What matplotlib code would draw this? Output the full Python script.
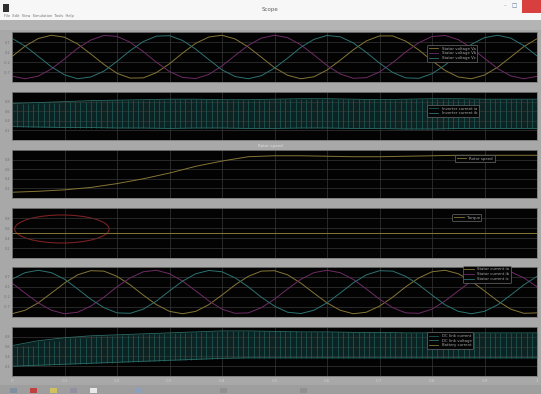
import numpy as np
import matplotlib.pyplot as plt
from matplotlib.patches import Ellipse, Rectangle

W, H = 541, 394

# sampled scope traces, time in grid divisions (0..10), step 0.25
t_sine = np.arange(41) * 0.25

# panel 1: three phase voltages (normalised)
v1_a = [0.02, 0.50, 0.85, 1.00, 0.91, 0.60, 0.14, -0.34, -0.75, -0.97, -0.96,
        -0.72, -0.31, 0.18, 0.63, 0.92, 1.00, 0.83, 0.46, -0.01, -0.49, -0.84,
        -1.00, -0.91, -0.60, -0.15, 0.33, 0.74, 0.97, 0.97, 0.73, 0.32, -0.17,
        -0.62, -0.92, -1.00, -0.83, -0.47, 0.00, 0.48, 0.84]
v1_b = [-0.88, -1.00, -0.88, -0.55, -0.09, 0.40, 0.78, 0.99, 0.95, 0.68, 0.25,
        -0.24, -0.67, -0.94, -0.99, -0.80, -0.41, 0.07, 0.54, 0.87, 1.00, 0.89,
        0.56, 0.10, -0.39, -0.78, -0.98, -0.95, -0.69, -0.26, 0.23, 0.66, 0.94,
        0.99, 0.80, 0.42, -0.06, -0.53, -0.87, -1.00, -0.89]
v1_c = [0.86, 0.50, 0.03, -0.45, -0.82, -1.00, -0.92, -0.65, -0.20, 0.29, 0.71,
        0.96, 0.98, 0.76, 0.36, -0.12, -0.59, -0.90, -1.00, -0.86, -0.51, -0.05,
        0.44, 0.81, 0.99, 0.93, 0.65, 0.21, -0.28, -0.71, -0.96, -0.98, -0.77,
        -0.37, 0.12, 0.58, 0.89, 1.00, 0.87, 0.52, 0.05]

# panel 5: three phase currents (normalised)
i5_a = [-1.00, -0.84, -0.50, -0.05, 0.41, 0.79, 0.98, 0.96, 0.72, 0.33, -0.14,
        -0.58, -0.89, -1.00, -0.89, -0.58, -0.14, 0.33, 0.72, 0.96, 0.98, 0.79,
        0.41, -0.05, -0.50, -0.84, -1.00, -0.93, -0.65, -0.24, 0.24, 0.65, 0.93,
        1.00, 0.84, 0.50, 0.05, -0.41, -0.79, -0.98, -0.96]
i5_b = [0.41, -0.05, -0.50, -0.84, -1.00, -0.93, -0.65, -0.24, 0.24, 0.65, 0.93,
        1.00, 0.84, 0.50, 0.05, -0.41, -0.79, -0.98, -0.96, -0.72, -0.33, 0.14,
        0.58, 0.89, 1.00, 0.89, 0.58, 0.14, -0.33, -0.72, -0.96, -0.98, -0.79,
        -0.41, 0.05, 0.50, 0.84, 1.00, 0.93, 0.65, 0.24]
i5_c = [0.59, 0.89, 1.00, 0.89, 0.59, 0.14, -0.33, -0.72, -0.96, -0.98, -0.79,
        -0.42, 0.05, 0.50, 0.84, 0.99, 0.93, 0.65, 0.24, -0.24, -0.65, -0.93,
        -0.99, -0.84, -0.50, -0.05, 0.42, 0.79, 0.98, 0.96, 0.72, 0.33, -0.14,
        -0.59, -0.89, -1.00, -0.89, -0.59, -0.14, 0.33, 0.72]

# slow traces, step 0.5
t_slow = np.arange(21) * 0.5
speed = [0.12, 0.14, 0.17, 0.22, 0.30, 0.40, 0.52, 0.66, 0.77, 0.86, 0.88,
         0.88, 0.87, 0.86, 0.86, 0.87, 0.88, 0.89, 0.89, 0.89, 0.89]
torque_t = [0, 10]
torque = [0.5, 0.5]

# switching envelopes (upper / lower) for panels 2 and 6
pwm2_hi = [0.76, 0.78, 0.80, 0.82, 0.83, 0.84, 0.85, 0.85, 0.84, 0.84, 0.85,
           0.86, 0.86, 0.85, 0.84, 0.85, 0.86, 0.86, 0.85, 0.85, 0.85]
pwm2_lo = [0.28, 0.27, 0.26, 0.26, 0.25, 0.25, 0.24, 0.25, 0.25, 0.24, 0.24,
           0.25, 0.25, 0.24, 0.24, 0.23, 0.23, 0.24, 0.24, 0.24, 0.24]
pwm6_hi = [0.62, 0.72, 0.78, 0.82, 0.84, 0.86, 0.88, 0.90, 0.92, 0.92, 0.91,
           0.90, 0.90, 0.89, 0.89, 0.88, 0.88, 0.88, 0.88, 0.88, 0.88]
pwm6_lo = [0.20, 0.22, 0.24, 0.26, 0.28, 0.30, 0.32, 0.34, 0.36, 0.37, 0.37,
           0.37, 0.37, 0.37, 0.37, 0.37, 0.37, 0.37, 0.37, 0.37, 0.37]

x_labels = ['0', '0.1', '0.2', '0.3', '0.4', '0.5', '0.6', '0.7', '0.8', '0.9', '1']

YEL, MAG, CYA = '#857636', '#6e2c66', '#2e7272'
TEAL = '#1f5a55'

fig = plt.figure(figsize=(W / 100, H / 100), dpi=100, facecolor='#a8a8a8')


def panel(top, bottom, ylim):
    ax = fig.add_axes([12 / W, 1 - bottom / H, 525 / W, (bottom - top) / H])
    ax.set_facecolor('#030303')
    ax.set_xlim(0, 10)
    ax.set_ylim(*ylim)
    ax.set_xticks(range(11))
    ax.set_yticks(np.linspace(ylim[0], ylim[1], 6)[1:-1])
    ax.grid(True, color='#383838', lw=0.5)
    ax.tick_params(length=0, labelsize=2.5, labelcolor='#707070', pad=1)
    ax.set_xticklabels([])
    ax.yaxis.set_major_formatter(plt.FormatStrFormatter('%.1f'))
    for s in ax.spines.values():
        s.set_color('#7a7a7a')
        s.set_linewidth(0.6)
    return ax


def legend(ax, labels, colors, anchor):
    handles = [plt.Line2D([], [], color=c, lw=0.6) for c in colors]
    lg = ax.legend(handles, labels, loc='upper left', bbox_to_anchor=anchor,
                   fontsize=2.8, frameon=True, facecolor='#050505',
                   edgecolor='#6a6a6a', labelcolor='#a8a8a8', handlelength=2.5,
                   borderpad=0.4, labelspacing=0.2, framealpha=1)
    lg.get_frame().set_linewidth(0.5)


def pwm(ax, hi, lo):
    ax.fill_between(t_slow, lo, hi, color='#0b2423', lw=0)
    ts = np.arange(100) * 0.1
    ax.vlines(ts, np.repeat(lo[:-1], 5), np.repeat(hi[:-1], 5), color=TEAL, lw=0.55)
    ax.plot(t_slow, hi, color='#2b6b65', lw=0.6)
    ax.plot(t_slow, lo, color='#2b6b65', lw=0.6)


ax1 = panel(32, 82, (-1.15, 1.15))
ax1.plot(t_sine, v1_a, color=YEL, lw=0.7)
ax1.plot(t_sine, v1_b, color=MAG, lw=0.7)
ax1.plot(t_sine, v1_c, color=CYA, lw=0.7)
legend(ax1, ['Stator voltage Va', 'Stator voltage Vb', 'Stator voltage Vc'],
       [YEL, MAG, CYA], (0.787, 0.78))

ax2 = panel(92, 140, (0, 1))
pwm(ax2, pwm2_hi, pwm2_lo)
legend(ax2, ['Inverter current ia', 'Inverter current ib'], [TEAL, CYA],
       (0.787, 0.77))

ax3 = panel(150, 198, (0, 1))
ax3.plot(t_slow, speed, color=YEL, lw=0.7)
legend(ax3, ['Rotor speed'], [YEL], (0.84, 0.93))
fig.text(270 / W, 1 - 146 / H, 'Rotor speed', fontsize=3, color='#e0e0e0',
         ha='center', va='center')

ax4 = panel(208, 258, (0, 1))
ax4.plot(torque_t, torque, color=YEL, lw=0.7)
ax4.add_patch(Ellipse((0.095, 0.58), 0.18, 0.56, transform=ax4.transAxes,
                      fill=False, edgecolor='#7a2020', lw=0.8))
legend(ax4, ['Torque'], [YEL], (0.835, 0.92))

ax5 = panel(267, 317, (-1.15, 1.15))
ax5.plot(t_sine, i5_a, color=YEL, lw=0.7)
ax5.plot(t_sine, i5_b, color=MAG, lw=0.7)
ax5.plot(t_sine, i5_c, color=CYA, lw=0.7)
legend(ax5, ['Stator current ia', 'Stator current ib', 'Stator current ic'],
       [YEL, MAG, CYA], (0.855, 1.06))

ax6 = panel(327, 376, (0, 1))
pwm(ax6, pwm6_hi, pwm6_lo)
legend(ax6, ['DC link current', 'DC link voltage', 'Battery current'],
       [TEAL, CYA, YEL], (0.787, 0.93))
ax6.set_xticklabels(x_labels)
ax6.tick_params(axis='x', labelsize=3, labelcolor='#cfcfcf', pad=2)

# window chrome: title bar, toolbar, taskbar
fig.patches.append(Rectangle((0, 1 - 20 / H), 1, 20 / H, transform=fig.transFigure,
                             facecolor='#f7f7f7', edgecolor='none'))
fig.patches.append(Rectangle((0, 1 - 30 / H), 1, 10 / H, transform=fig.transFigure,
                             facecolor='#b4b4b4', edgecolor='none'))
fig.patches.append(Rectangle((3 / W, 1 - 12 / H), 6 / W, 8 / H, transform=fig.transFigure,
                             facecolor='#303030', edgecolor='none'))
fig.patches.append(Rectangle((522 / W, 1 - 13 / H), 19 / W, 13 / H, transform=fig.transFigure,
                             facecolor='#d84040', edgecolor='none'))
fig.text(270 / W, 1 - 9 / H, 'Scope', fontsize=4, color='#606060', ha='center', va='center')
fig.text(4 / W, 1 - 16 / H, 'File  Edit  View  Simulation  Tools  Help', fontsize=2.6,
         color='#707070', va='center')
fig.text(505 / W, 1 - 6 / H, '\u2013', fontsize=4, color='#909090', ha='center', va='center')
fig.text(514 / W, 1 - 6 / H, '\u25a1', fontsize=4, color='#5a7aa0', ha='center', va='center')
fig.patches.append(Rectangle((0, 0), 1, 9 / H, transform=fig.transFigure,
                             facecolor='#9e9e9e', edgecolor='none'))
icon_x = [10, 30, 50, 70, 90, 135, 220, 300]
icon_c = ['#8090a0', '#c04040', '#d0c060', '#9090a0', '#e8e8e8', '#8aa0c0', '#909090', '#909090']
for x, c in zip(icon_x, icon_c):
    fig.patches.append(Rectangle((x / W, 1 / H), 7 / W, 5 / H, transform=fig.transFigure,
                                 facecolor=c, edgecolor='none'))

fig.savefig('out.png', dpi=100, facecolor=fig.get_facecolor())
